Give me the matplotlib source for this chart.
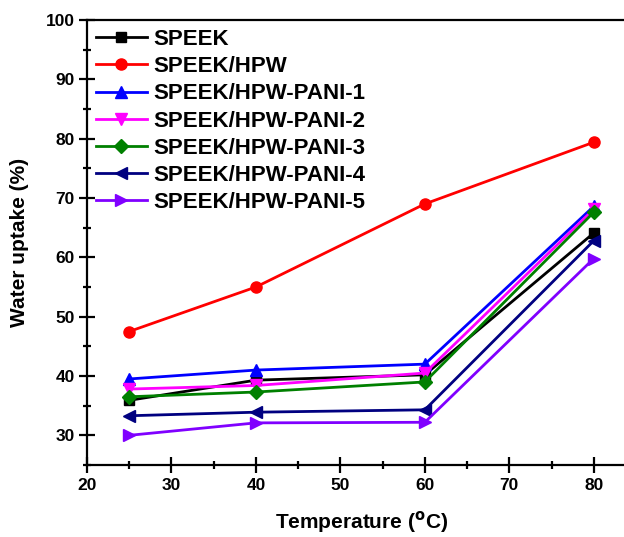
import matplotlib
matplotlib.use("Agg")
import matplotlib.pyplot as plt
from matplotlib.ticker import MultipleLocator

plt.rcParams['font.family'] = ['Liberation Sans', 'DejaVu Sans']
plt.rcParams['font.weight'] = 'bold'
plt.rcParams['mathtext.default'] = 'bf'

temps = [25, 40, 60, 80]
labels = ["SPEEK", "SPEEK/HPW", "SPEEK/HPW-PANI-1", "SPEEK/HPW-PANI-2",
          "SPEEK/HPW-PANI-3", "SPEEK/HPW-PANI-4", "SPEEK/HPW-PANI-5"]
speek = [35.9, 39.3, 40.2, 64.1]
speek_hpw = [47.5, 55.0, 69.0, 79.4]
pani1 = [39.5, 41.0, 42.0, 68.6]
pani2 = [37.8, 38.4, 40.5, 68.1]
pani3 = [36.5, 37.3, 39.0, 67.6]
pani4 = [33.3, 33.9, 34.3, 62.8]
pani5 = [30.0, 32.1, 32.2, 59.8]
xticks = [20, 30, 40, 50, 60, 70, 80]
yticks = [30, 40, 50, 60, 70, 80, 90, 100]
series = [speek, speek_hpw, pani1, pani2, pani3, pani4, pani5]
colors = ['black', '#ff0000', '#0000ff', '#ff00ff', '#008000', '#000080', '#8000ff']
markers = ['s', 'o', '^', 'v', 'D', '<', '>']
msizes = [7, 8, 8, 8, 7, 8, 8]

fig = plt.figure(figsize=(6.24, 5.37), dpi=100)
ax = fig.add_axes([87/624, 72/537, 549/624, 445/537])

for s, lab, c, m, ms in zip(series, labels, colors, markers, msizes):
    ax.plot(temps, s, color=c, marker=m, markersize=ms, linewidth=2.0, label=lab)

ax.set_xlim(20, 85)
ax.set_ylim(25, 100)
ax.xaxis.set_minor_locator(MultipleLocator(5))
ax.yaxis.set_minor_locator(MultipleLocator(5))
ax.set_xticks(xticks)
ax.set_xticklabels([str(v) for v in xticks], fontweight='bold', fontsize=12.5)
ax.set_yticks(yticks)
ax.set_yticklabels([str(v) for v in yticks], fontweight='bold', fontsize=12.5)
ax.tick_params(which='major', direction='inout', length=12, width=1.6, pad=3)
ax.tick_params(which='minor', direction='inout', length=6, width=1.6)
for sp in ax.spines.values():
    sp.set_linewidth(1.6)
ax.spines['right'].set_visible(False)

ax.set_xlabel("Temperature ($^{o}$C)", fontsize=15, fontweight='bold', labelpad=12)
ax.set_ylabel("Water uptake (%)", fontsize=15, fontweight='bold', labelpad=12)

leg = ax.legend(loc='upper left', frameon=False, fontsize=16, handlelength=2.3,
                labelspacing=0.28, borderaxespad=0.0, handletextpad=0.3,
                borderpad=0.2, bbox_to_anchor=(0.008, 0.99))
for t in leg.get_texts():
    t.set_fontweight('bold')

fig.savefig("out.png", dpi=100)
